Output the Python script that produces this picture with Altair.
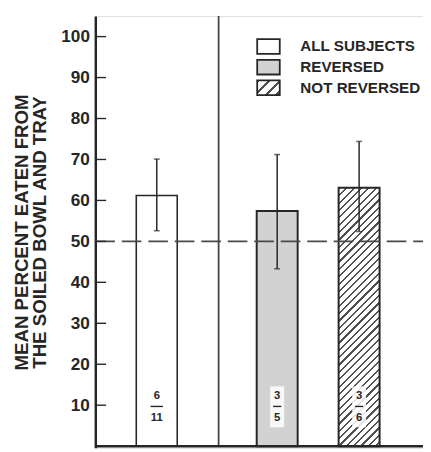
import math
import altair as alt
import pandas as pd

# ---- data ----
groups = ["ALL SUBJECTS", "REVERSED", "NOT REVERSED"]
positions = [0.75, 2.22, 3.22]          # bar centres on the x scale
means = [61.2, 57.4, 63.1]
err_hi = [70.1, 71.2, 74.4]
err_lo = [52.6, 43.3, 52.4]
numerators = ["6", "3", "3"]
denominators = ["11", "5", "6"]
y_ticks = [10, 20, 30, 40, 50, 60, 70, 80, 90, 100]
chance_level = [50]
divider_pos = [1.505]

# ---- layout / style ----
W, H = 334, 440
YMIN, YMAX = -0.4, 105.0
XMIN, XMAX = 0, 4
HALF = 0.25
INK = "#262626"
HATCH = "#505050"
FONT = "Liberation Sans"

df = pd.DataFrame({
    "group": groups, "pos": positions, "mean": means,
    "hi": err_hi, "lo": err_lo, "num": numerators, "den": denominators,
})
df["x1"] = df["pos"] - HALF
df["x2"] = df["pos"] + HALF
df["base"] = 0

xs = alt.Scale(domain=[XMIN, XMAX], nice=False, zero=False)
ys = alt.Scale(domain=[YMIN, YMAX], nice=False, zero=False)

def hatch(w, h, period=7.5, dark=0.3, color=HATCH, bg="white"):
    k = (w + h) / (w * w + h * h)
    p = period / (w + h)
    stops = []
    n = int(math.ceil(1 / p))
    for i in range(n):
        s = i * p
        e = min(s + dark * p, 1.0)
        if s >= 1:
            break
        stops += [alt.GradientStop(color=bg, offset=s),
                  alt.GradientStop(color=color, offset=s),
                  alt.GradientStop(color=color, offset=e),
                  alt.GradientStop(color=bg, offset=e)]
    return alt.LinearGradient(gradient="linear", stops=stops,
                              x1=0, y1=0, x2=k * w, y2=k * h)

bar_w_px = 2 * HALF * W / (XMAX - XMIN)
bar3_h_px = means[2] * H / (YMAX - YMIN)

base = alt.Chart(df)

yaxis = alt.Axis(values=y_ticks, tickSize=0, labelPadding=6, labelFont=FONT,
                 labelFontSize=17.5, labelFontWeight="bold", labelColor=INK,
                 domainColor=INK, domainWidth=2.5, grid=False,
                 title=["MEAN PERCENT EATEN FROM", "THE SOILED BOWL AND TRAY"],
                 titleFont=FONT, titleFontSize=19, titleFontWeight="bold",
                 titleColor=INK, titleLineHeight=18, titlePadding=12)

bar1 = base.transform_filter(alt.datum.group == groups[0]).mark_bar(
    fill="white", stroke=INK, strokeWidth=1.6).encode(
    x=alt.X("x1:Q", scale=xs, axis=None), x2="x2:Q",
    y=alt.Y("mean:Q", scale=ys, axis=yaxis), y2="base:Q")

bar2 = base.transform_filter(alt.datum.group == groups[1]).mark_bar(
    fill="#d2d2d2", stroke=INK, strokeWidth=2).encode(
    x="x1:Q", x2="x2:Q", y="mean:Q", y2="base:Q")

bar3 = base.transform_filter(alt.datum.group == groups[2]).mark_bar(
    fill=hatch(bar_w_px, bar3_h_px), stroke=INK, strokeWidth=2).encode(
    x="x1:Q", x2="x2:Q", y="mean:Q", y2="base:Q")

label_bg = base.transform_filter(alt.datum.group != groups[0]).transform_calculate(
    a="datum.pos - 0.085", b="datum.pos + 0.085", lo_y="4.6", hi_y="14.6"
).mark_rect(fill="white", opacity=0.85).encode(
    x="a:Q", x2="b:Q", y="lo_y:Q", y2="hi_y:Q")

frac_line = base.transform_calculate(
    a="datum.pos - (length(datum.den) > 1 ? 0.075 : 0.05)",
    b="datum.pos + (length(datum.den) > 1 ? 0.075 : 0.05)", ly="9.7"
).mark_rule(color=INK, strokeWidth=1.4).encode(x="a:Q", x2="b:Q", y="ly:Q")

num_txt = base.transform_calculate(ty="12.2").mark_text(
    font=FONT, fontSize=11.5, fontWeight="bold", color=INK, baseline="middle").encode(
    x="pos:Q", y="ty:Q", text="num:N")
den_txt = base.transform_calculate(ty="6.9").mark_text(
    font=FONT, fontSize=11.5, fontWeight="bold", color=INK, baseline="middle").encode(
    x="pos:Q", y="ty:Q", text="den:N")

err = base.mark_rule(color=INK, strokeWidth=1.5).encode(
    x="pos:Q", y="lo:Q", y2="hi:Q")
cap_hi = base.mark_tick(color=INK, orient="horizontal", size=6, thickness=1.5).encode(
    x="pos:Q", y="hi:Q")
cap_lo = base.mark_tick(color=INK, orient="horizontal", size=6, thickness=1.5).encode(
    x="pos:Q", y="lo:Q")

dash = alt.Chart(pd.DataFrame({"v": chance_level})).mark_rule(
    color="#4a4a4a", strokeWidth=1.6, strokeDash=[20, 7]).encode(
    y="v:Q", x=alt.value(0), x2=alt.value(W))

divider = alt.Chart(pd.DataFrame({"d": divider_pos, "b": [0], "t": [YMAX]})).mark_rule(
    color="#444444", strokeWidth=1.8).encode(x="d:Q", y="b:Q", y2="t:Q")

baseline = alt.Chart(pd.DataFrame({"z": [0]})).mark_rule(
    color=INK, strokeWidth=2.5).encode(y="z:Q", x=alt.value(0), x2=alt.value(W))

ticks = alt.Chart(pd.DataFrame({"t": y_ticks})).mark_rule(
    color=INK, strokeWidth=1.4).encode(y="t:Q", x=alt.value(0), x2=alt.value(11))

# ---- legend (drawn as marks) ----
leg = pd.DataFrame({"label": groups, "row": [0, 1, 2]})
ROW0, ROWSTEP, BX0, BX1, BH = 31, 21, 165, 188, 15

def leg_box(i, fill):
    c = ROW0 + i * ROWSTEP
    return alt.Chart(leg[leg.row == i]).mark_rect(
        fill=fill, stroke=INK, strokeWidth=1.8).encode(
        x=alt.value(BX0), x2=alt.value(BX1),
        y=alt.value(c - BH / 2), y2=alt.value(c + BH / 2))

def leg_text(i):
    c = ROW0 + i * ROWSTEP
    return alt.Chart(leg[leg.row == i]).mark_text(
        font=FONT, fontSize=15.5, fontWeight="bold", color=INK,
        align="left", baseline="middle").encode(
        x=alt.value(209), y=alt.value(c), text="label:N")

legend = alt.layer(
    leg_box(0, "white"), leg_box(1, "#d2d2d2"),
    leg_box(2, hatch(BX1 - BX0, BH, period=11, dark=0.3)),
    leg_text(0), leg_text(1), leg_text(2))

chart = alt.layer(
    bar1, bar2, bar3, label_bg, frac_line, num_txt, den_txt,
    err, cap_hi, cap_lo, dash, divider, baseline, ticks, legend
).properties(
    width=W, height=H,
    padding={"left": 89, "top": 4, "right": 0, "bottom": 0},
    autosize=alt.AutoSizeParams(type="none"),
).configure_view(stroke=None).configure(background="white")

chart.save("out.html", embed_options={"renderer": "svg", "actions": False})
